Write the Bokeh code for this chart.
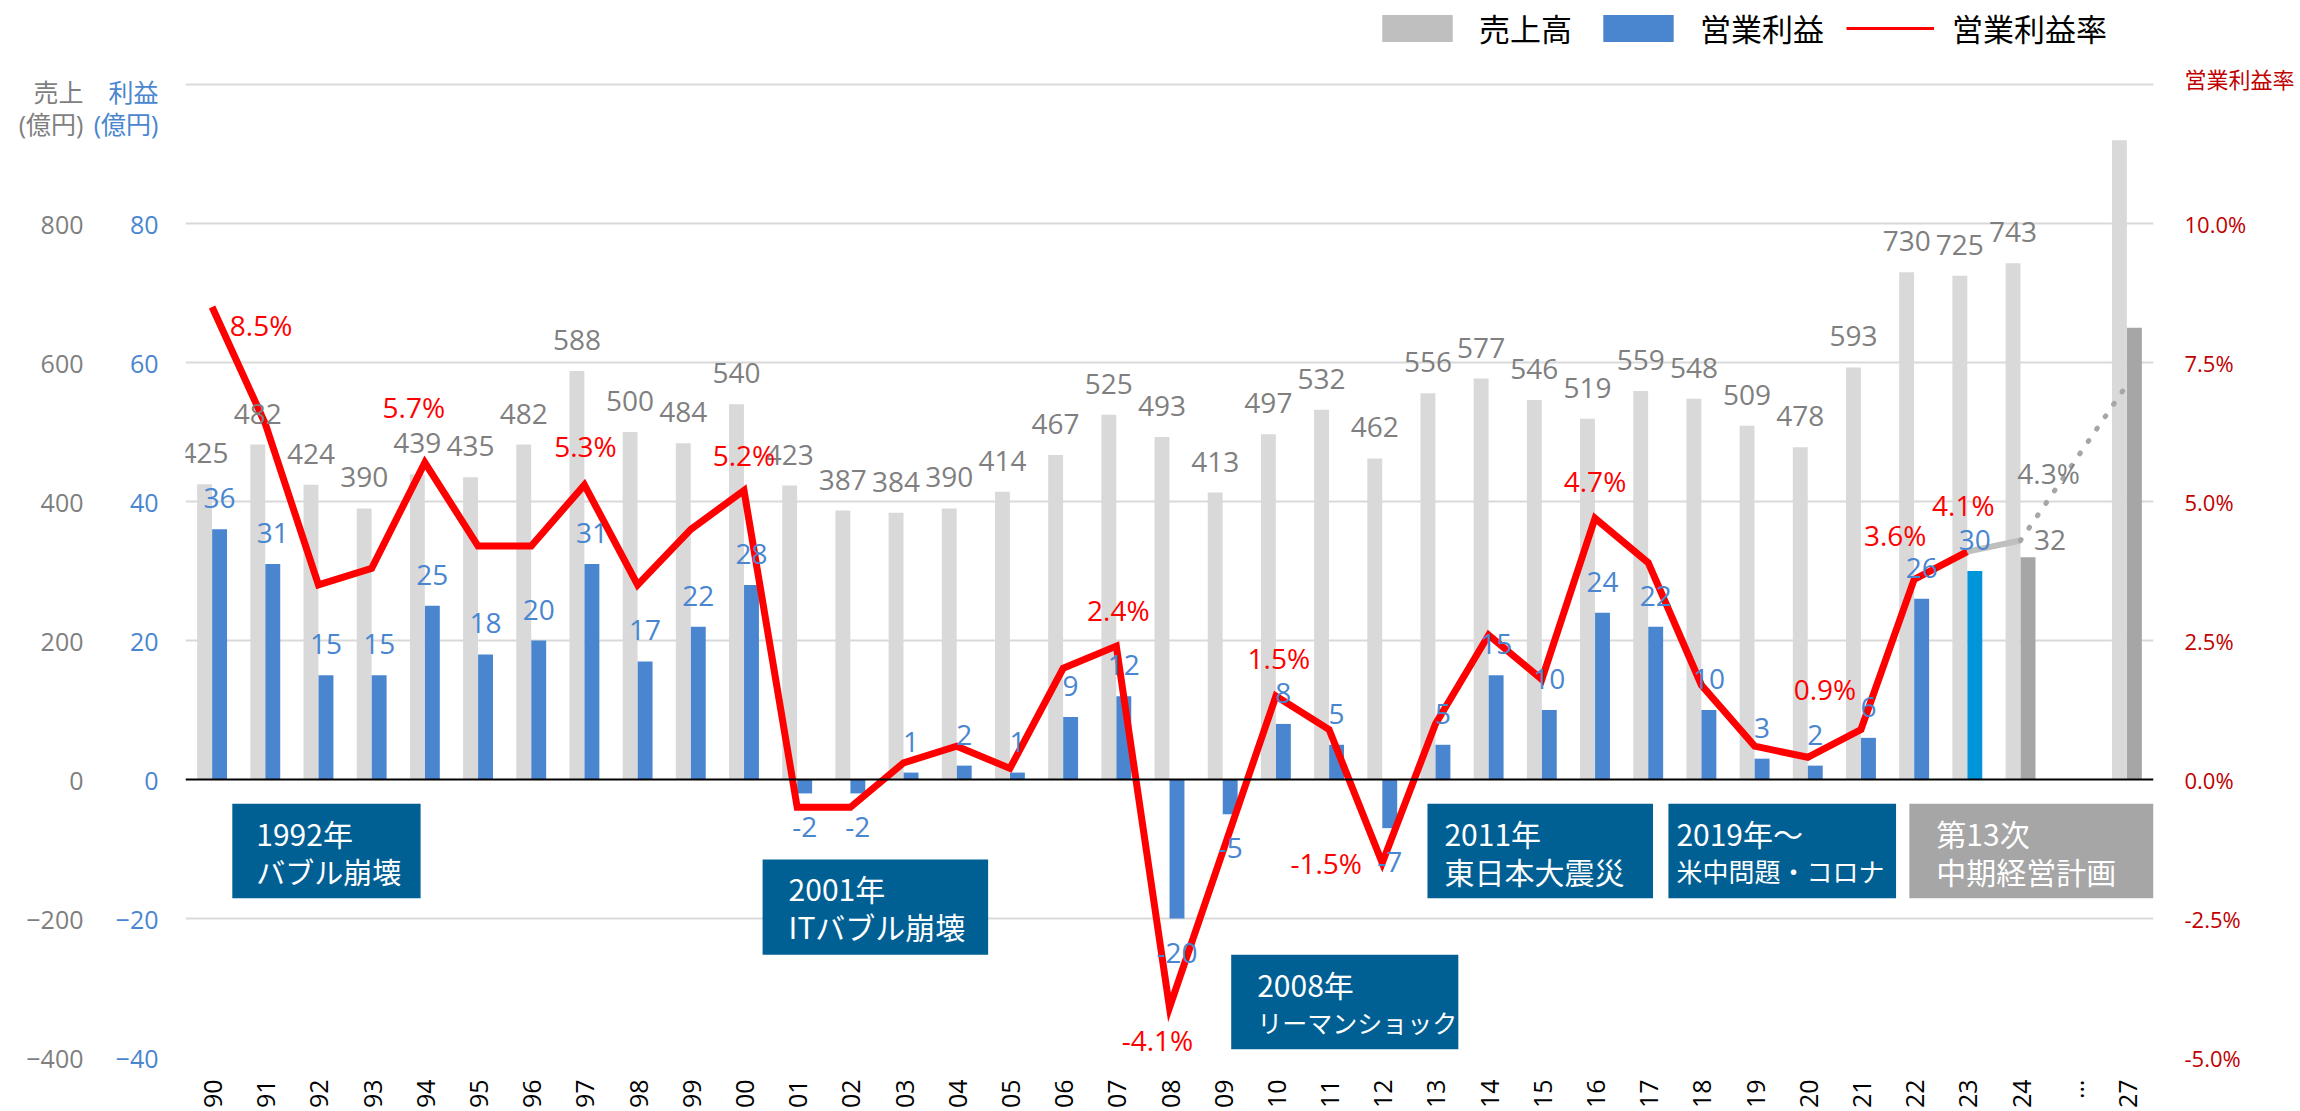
import math
from bokeh.plotting import figure
from bokeh.models import (FactorRange, Range1d, LinearAxis, FixedTicker, PrintfTickFormatter,
                          ColumnDataSource, LabelSet, Span, Legend, LegendItem)
from bokeh.transform import dodge
from bokeh.core.properties import value
from bokeh.embed import file_html
from bokeh.resources import INLINE

# ---------------- data ----------------
years = ['90', '91', '92', '93', '94', '95', '96', '97', '98', '99',
         '00', '01', '02', '03', '04', '05', '06', '07', '08', '09',
         '10', '11', '12', '13', '14', '15', '16', '17', '18', '19',
         '20', '21', '22', '23', '24']
gap_label = '…'
plan_year = '27'
categories = years + [gap_label, plan_year]

bar_years = years + [plan_year]
sales = [425, 482, 424, 390, 439, 435, 482, 588, 500, 484,
         540, 423, 387, 384, 390, 414, 467, 525, 493, 413,
         497, 532, 462, 556, 577, 546, 519, 559, 548, 509,
         478, 593, 730, 725, 743, 920]
profit = [36, 31, 15, 15, 25, 18, 20, 31, 17, 22,
          28, -2, -2, 1, 2, 1, 9, 12, -20, -5,
          8, 5, -7, 5, 15, 10, 24, 22, 10, 3,
          2, 6, 26, 30, 32, 65]

rate_years = years[:-1]            # 90 .. 23 (actual)
rate = [8.5, 6.4, 3.5, 3.8, 5.7, 4.2, 4.2, 5.3, 3.5, 4.5,
        5.2, -0.5, -0.5, 0.3, 0.6, 0.2, 2.0, 2.4, -4.1, -1.3,
        1.5, 0.9, -1.5, 1.0, 2.6, 1.8, 4.7, 3.9, 1.7, 0.6,
        0.4, 0.9, 3.6, 4.1]
plan_rate_years = ['24', '27']
plan_rate = [4.3, 7.1]

rate_label_years = ['90', '94', '97', '00', '07', '08', '10', '12', '16', '21', '22', '23']

sales_ticks = [-400, -200, 0, 200, 400, 600, 800]
profit_ticks = [-40, -20, 0, 20, 40, 60, 80]
rate_ticks = [-5, -2.5, 0, 2.5, 5, 7.5, 10]

events_line1 = ['1992年', '2001年', '2008年', '2011年', '2019年～', '第13次']
events_line2 = ['バブル崩壊', 'ITバブル崩壊', 'リーマンショック', '東日本大震災', '米中問題・コロナ', '中期経営計画']

# ---------------- styles / layout ----------------
C_SALES = '#d9d9d9'
C_PROFIT = '#4a86d0'
C_PROFIT_23 = '#0095d9'
C_PLAN = '#a6a6a6'
C_SALES_TXT = '#7f7f7f'
C_RATE = '#ff0000'
C_RATE_AX = '#c00000'
C_BOX = '#006094'
NUM_FONT = 'Open Sans'
JP_FONT = 'Noto Sans CJK JP'
AX_FONT = 'Open Sans, Noto Sans CJK JP'

Y_BOTTOM = -400
Y_TOP = 1121          # plot area extends up to the top edge (legend lives there)

# unit titles are drawn as extra tick labels at these (layout) heights
SALES_TITLE_POS = (990, 944)
PROFIT_TITLE_POS = (99.0, 94.4)
RATE_TITLE_POS = 12.6

# annotation boxes (x in category slots, y in sales units)
box_left = [0.88, 10.85, 19.66, 23.35, 27.88, 32.41]
box_right = [4.42, 15.09, 23.93, 27.59, 32.16, 37.0]
box_top = [-35, -115, -252, -35, -35, -35]
box_bottom = [-171, -252, -388, -171, -171, -171]
box_color = [C_BOX, C_BOX, C_BOX, C_BOX, C_BOX, C_PLAN]
box_pad = [24, 26, 26, 17, 8, 27]
box_fs2 = ['29px', '30px', '25px', '30px', '26px', '30px']

rate_label_offsets = {'90': (49, -18), '94': (-11, 56), '97': (1, 39), '00': (0, 35),
                      '07': (2, 36), '08': (-12, -33), '10': (3, 38), '12': (-56, 0),
                      '16': (0, 37), '21': (-36, 40), '22': (-19, 44), '23': (-4, 47)}

p = figure(width=2300, height=1111, x_range=FactorRange(*categories), y_range=Range1d(Y_BOTTOM, Y_TOP),
           output_backend="svg", toolbar_location=None, y_axis_location=None,
           min_border_left=185, min_border_right=147, min_border_top=0, min_border_bottom=54)
p.extra_y_ranges = {"profit": Range1d(Y_BOTTOM / 10, Y_TOP / 10), "rate": Range1d(Y_BOTTOM / 80, Y_TOP / 80)}
p.outline_line_color = None
p.background_fill_color = 'white'
p.border_fill_color = 'white'

p.xgrid.visible = False
p.ygrid.ticker = FixedTicker(ticks=[-400, -200, 200, 400, 600, 800, 1000])
p.ygrid.grid_line_color = '#d9d9d9'
p.ygrid.grid_line_width = 2

# axes
profit_axis = LinearAxis(y_range_name="profit", ticker=FixedTicker(ticks=profit_ticks + list(PROFIT_TITLE_POS)),
                         major_label_overrides={PROFIT_TITLE_POS[0]: '利益', PROFIT_TITLE_POS[1]: '(億円)'})
sales_axis = LinearAxis(ticker=FixedTicker(ticks=sales_ticks + list(SALES_TITLE_POS)),
                        major_label_overrides={SALES_TITLE_POS[0]: '売上', SALES_TITLE_POS[1]: '(億円)'})
rate_axis = LinearAxis(y_range_name="rate", ticker=FixedTicker(ticks=rate_ticks + [RATE_TITLE_POS]),
                       formatter=PrintfTickFormatter(format="%.1f%%"),
                       major_label_overrides={RATE_TITLE_POS: '営業利益率'})
for ax, col, so, fs in ((profit_axis, C_PROFIT, 27, '25px'), (sales_axis, C_SALES_TXT, 7, '25px'),
                        (rate_axis, C_RATE_AX, 31, '22px')):
    ax.axis_line_color = None
    ax.major_tick_line_color = None
    ax.minor_tick_line_color = None
    ax.major_tick_out = 0
    ax.major_tick_in = 0
    ax.minor_tick_out = 0
    ax.minor_tick_in = 0
    ax.major_label_text_font = AX_FONT
    ax.major_label_text_font_size = fs
    ax.major_label_text_color = col
    ax.major_label_standoff = so
p.add_layout(profit_axis, 'left')
p.add_layout(sales_axis, 'left')
p.add_layout(rate_axis, 'right')

xa = p.xaxis[0]
xa.axis_line_color = None
xa.major_tick_line_color = None
xa.minor_tick_line_color = None
xa.major_tick_out = 0
xa.major_tick_in = 0
xa.major_label_orientation = math.pi / 2
xa.major_label_text_font = NUM_FONT
xa.major_label_text_font_size = '25px'
xa.major_label_text_color = '#000000'
xa.major_label_standoff = 22

# bars
pcolors = [C_PROFIT_23 if y == '23' else (C_PLAN if y in ('24', plan_year) else C_PROFIT) for y in bar_years]
bars = ColumnDataSource(dict(x=bar_years, sales=sales, profit=profit, pc=pcolors))
p.vbar(x=dodge('x', -0.141, range=p.x_range), top='sales', bottom=0, width=0.28,
       source=bars, fill_color=C_SALES, line_color=None)
p.vbar(x=dodge('x', 0.141, range=p.x_range), top='profit', bottom=0, width=0.28,
       source=bars, fill_color='pc', line_color=None, y_range_name='profit')

p.add_layout(Span(location=0, dimension='width', line_color='black', line_width=2))

# annotation boxes
boxes = ColumnDataSource(dict(left=box_left, right=box_right, top=box_top, bottom=box_bottom,
                              c=box_color, t1=events_line1, t2=events_line2, pad=box_pad, fs2=box_fs2))
p.quad(left='left', right='right', top='top', bottom='bottom', fill_color='c', line_color=None, source=boxes)
p.add_layout(LabelSet(x='left', y='top', text='t1', source=boxes, x_offset='pad', y_offset=-29,
                      text_font=value(JP_FONT), text_font_size='30px', text_color='white',
                      text_align='left', text_baseline='middle'))
p.add_layout(LabelSet(x='left', y='top', text='t2', source=boxes, x_offset='pad', y_offset=-67,
                      text_font=value(JP_FONT), text_font_size='fs2', text_color='white',
                      text_align='left', text_baseline='middle'))

# lines
p.line(x=rate_years, y=rate, y_range_name='rate', line_color=C_RATE, line_width=7, line_join='miter')
p.line(x=[rate_years[-1], plan_rate_years[0]], y=[rate[-1], plan_rate[0]], y_range_name='rate',
       line_color='#bfbfbf', line_width=6)
p.line(x=plan_rate_years, y=plan_rate, y_range_name='rate', line_color=C_PLAN, line_width=5,
       line_dash='1 14', line_cap='round')

# data labels: sales
lab_years = years
n = len(lab_years)
sl = ColumnDataSource(dict(x=lab_years, y=sales[:n], t=[str(v) for v in sales[:n]]))
p.add_layout(LabelSet(x=dodge('x', -0.141, range=p.x_range), y='y', text='t', source=sl, y_offset=31,
                      text_font=value(NUM_FONT), text_font_size='28px', text_color=C_SALES_TXT,
                      text_align='center', text_baseline='middle'))

# data labels: profit
pxo, pyo, pcol = [], [], []
for y, v in zip(lab_years, profit[:n]):
    if y == '24':
        pxo.append(22); pyo.append(17); pcol.append(C_SALES_TXT)
    else:
        pxo.append(0); pyo.append(31 if v >= 0 else -34); pcol.append(C_PROFIT)
pl = ColumnDataSource(dict(x=lab_years, y=profit[:n], t=[str(v) for v in profit[:n]],
                           xo=pxo, yo=pyo, c=pcol))
p.add_layout(LabelSet(x=dodge('x', 0.141, range=p.x_range), y='y', text='t', source=pl,
                      x_offset='xo', y_offset='yo', y_range_name='profit',
                      text_font=value(NUM_FONT), text_font_size='28px', text_color='c',
                      text_align='center', text_baseline='middle'))

# data labels: rate
rmap = dict(zip(rate_years, rate))
rl = ColumnDataSource(dict(x=rate_label_years, y=[rmap[y] for y in rate_label_years],
                           t=[f"{rmap[y]:.1f}%" for y in rate_label_years],
                           xo=[rate_label_offsets[y][0] for y in rate_label_years],
                           yo=[rate_label_offsets[y][1] for y in rate_label_years]))
p.add_layout(LabelSet(x='x', y='y', text='t', source=rl, x_offset='xo', y_offset='yo',
                      y_range_name='rate', text_font=value(NUM_FONT), text_font_size='28px',
                      text_color=C_RATE, text_align='center', text_baseline='middle'))
plan_lab = ColumnDataSource(dict(x=plan_rate_years[:1], y=plan_rate[:1], t=[f"{plan_rate[0]:.1f}%"]))
p.add_layout(LabelSet(x='x', y='y', text='t', source=plan_lab, x_offset=28, y_offset=67,
                      y_range_name='rate', text_font=value(NUM_FONT), text_font_size='28px',
                      text_color=C_SALES_TXT, text_align='center', text_baseline='middle'))

# legend swatches: zero-size stand-in glyphs (nothing visible in the plot area)
r_ls = p.vbar(x=[gap_label], top=[0], bottom=[0], width=0.01, fill_color='#bfbfbf', line_color=None)
r_lp = p.vbar(x=[gap_label], top=[0], bottom=[0], width=0.01, fill_color=C_PROFIT, line_color=None)
r_lr = p.line(x=[gap_label, gap_label], y=[0, 0], line_color=C_RATE, line_width=3)
legend = Legend(items=[LegendItem(label='売上高', renderers=[r_ls]),
                       LegendItem(label='営業利益', renderers=[r_lp]),
                       LegendItem(label='営業利益率', renderers=[r_lr])],
                location=(1188, 1007), orientation='horizontal', glyph_width=88, glyph_height=34,
                label_standoff=18, spacing=22,
                label_text_font=JP_FONT, label_text_font_size='31px', label_text_color='black',
                label_height=27, padding=0, margin=0, border_line_color=None,
                background_fill_alpha=0)
p.add_layout(legend)

open("out.html", "w").write(file_html(p, INLINE))
